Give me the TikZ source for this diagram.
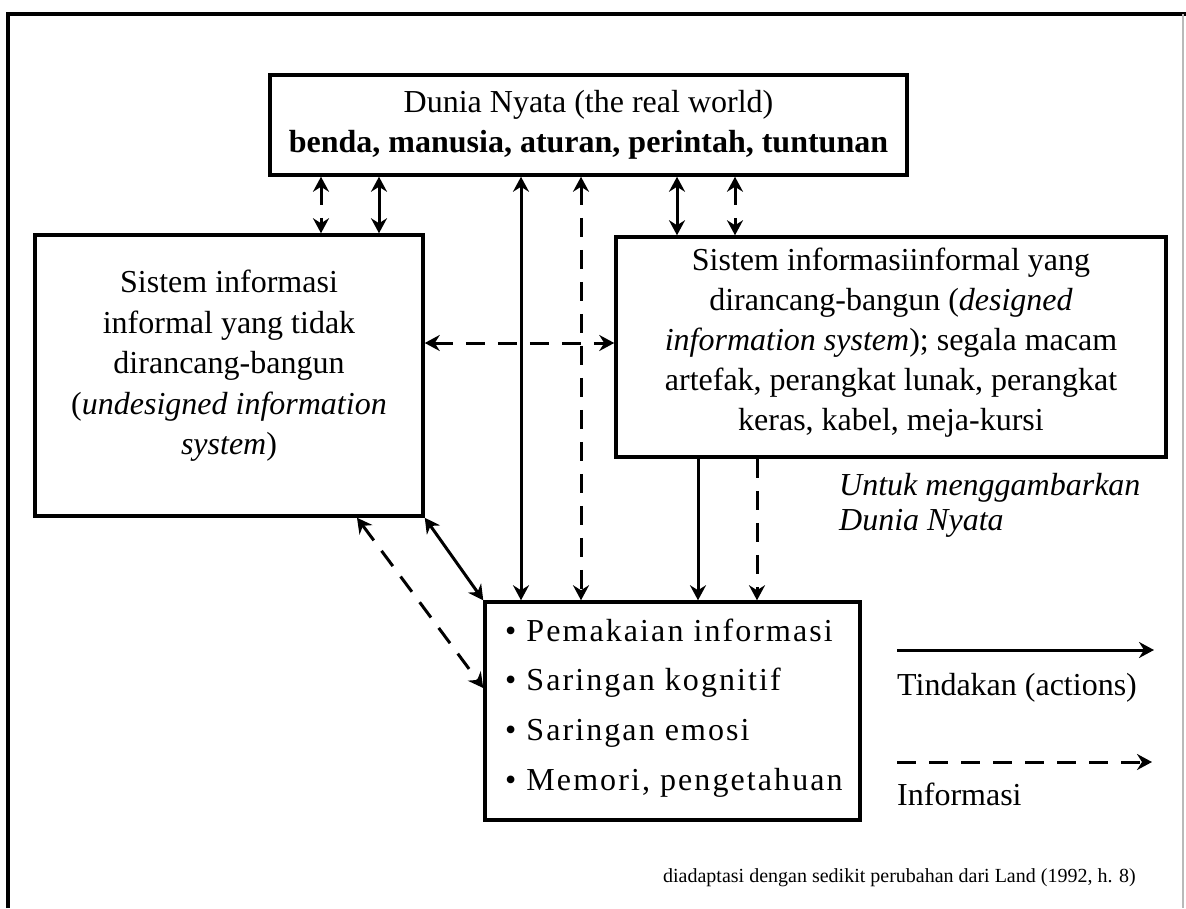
\documentclass[tikz,border=0pt]{standalone}
\usepackage{fontspec}
\setmainfont{Liberation Serif}
\usetikzlibrary{arrows.meta}
\begin{document}
\begin{tikzpicture}[x=1pt,y=-1pt,
  >={Stealth[length=15pt,width=16pt,inset=5pt]},
  box/.style={draw, line width=3.5pt, inner sep=0pt},
  txt/.style={inner sep=0pt, align=center, font=\fontsize{32}{40}\selectfont},
  act/.style={line width=3pt},
  inf/.style={line width=3pt, dash pattern=on 19pt off 13pt},
  frame/.style={line width=4pt}
]
\useasboundingbox (0,0) rectangle (1186,908);
\fill[white] (0,0) rectangle (1186,908);

% outer frame
\coordinate (fbl) at (8,908);
\coordinate (ftl) at (8,14);
\coordinate (ftr) at (1186,14);
\coordinate (frt) at (1183,14);
\coordinate (frb) at (1183,908);
\draw[frame] (fbl) -- (ftl) -- (ftr);
\draw[gray!55, line width=1.5pt] (frt) -- (frb);

% boxes
\node[box, minimum width=637pt, minimum height=100pt] (top) at (588.5,125) {};
\node[box, minimum width=388pt, minimum height=281pt] (left) at (229,375.5) {};
\node[box, minimum width=550pt, minimum height=220pt] (right) at (891,347) {};
\node[box, minimum width=375pt, minimum height=218pt] (bot) at (672.5,711) {};

% texts
\node[txt] (toptxt) at (588.5,125) {Dunia Nyata (the real world)\\\textbf{benda, manusia, aturan, perintah, tuntunan}};
\node[txt, font=\fontsize{32}{40.5}\selectfont] (lefttxt) at (229,366) {Sistem informasi\\informal yang tidak\\dirancang-bangun\\(\textit{undesigned information}\\\textit{system})};
\node[txt] (righttxt) at (891,343) {Sistem informasiinformal yang\\dirancang-bangun (\textit{designed}\\\textit{information system}); segala macam\\artefak, perangkat lunak, perangkat\\keras, kabel, meja-kursi};
\node[txt, align=left, anchor=west, font=\fontsize{32}{49.7}\selectfont\addfontfeatures{LetterSpace=6.5}] (bottxt) at (505,708) {• Pemakaian informasi\\• Saringan kognitif\\• Saringan emosi\\• Memori, pengetahuan};
\node[txt, align=left, anchor=west, font=\fontsize{32}{35}\selectfont\itshape] (untuk) at (839,505) {Untuk menggambarkan\\Dunia Nyata};

% helper coordinates
\coordinate (x1) at (321,0);
\coordinate (x2) at (379,0);
\coordinate (x3) at (521,0);
\coordinate (x4) at (581,0);
\coordinate (x5) at (677,0);
\coordinate (x6) at (735,0);
\coordinate (x7) at (698,0);
\coordinate (x8) at (757,0);
\coordinate (x9) at (357,0);
\coordinate (yh) at (0,343);
\coordinate (yd) at (0,688);

% connectors
\draw[inf,<->] (top.south -| x1) -- (left.north -| x1);
\draw[act,<->] (top.south -| x2) -- (left.north -| x2);
\draw[act,<->] (top.south -| x3) -- (bot.north -| x3);
\draw[inf,<->] (top.south -| x4) -- (bot.north -| x4);
\draw[act,<->] (top.south -| x5) -- (right.north -| x5);
\draw[inf,<->] (top.south -| x6) -- (right.north -| x6);
\draw[inf,<->] (left.east |- yh) -- (right.west |- yh);
\draw[act,->] (right.south -| x7) -- (bot.north -| x7);
\draw[inf,->] (right.south -| x8) -- (bot.north -| x8);
\draw[act,<->] (left.south east) -- (bot.north west);
\draw[inf,<->] (left.south -| x9) -- (bot.west |- yd);

% legend
\coordinate (l1s) at (897,650);
\coordinate (l1e) at (1154,650);
\coordinate (l2s) at (897,762);
\coordinate (l2e) at (1152,762);
\draw[act,->] (l1s) -- (l1e);
\draw[inf,->] (l2s) -- (l2e);
\node[txt, anchor=west] (tind) at (897,688) {Tindakan (actions)};
\node[txt, anchor=west] (infor) at (897,794) {Informasi};

% footer
\node[txt, anchor=east, font=\fontsize{20}{24}\selectfont] (foot) at (1136,878) {diadaptasi dengan sedikit perubahan dari Land (1992, h. 8)};
\end{tikzpicture}
\end{document}
